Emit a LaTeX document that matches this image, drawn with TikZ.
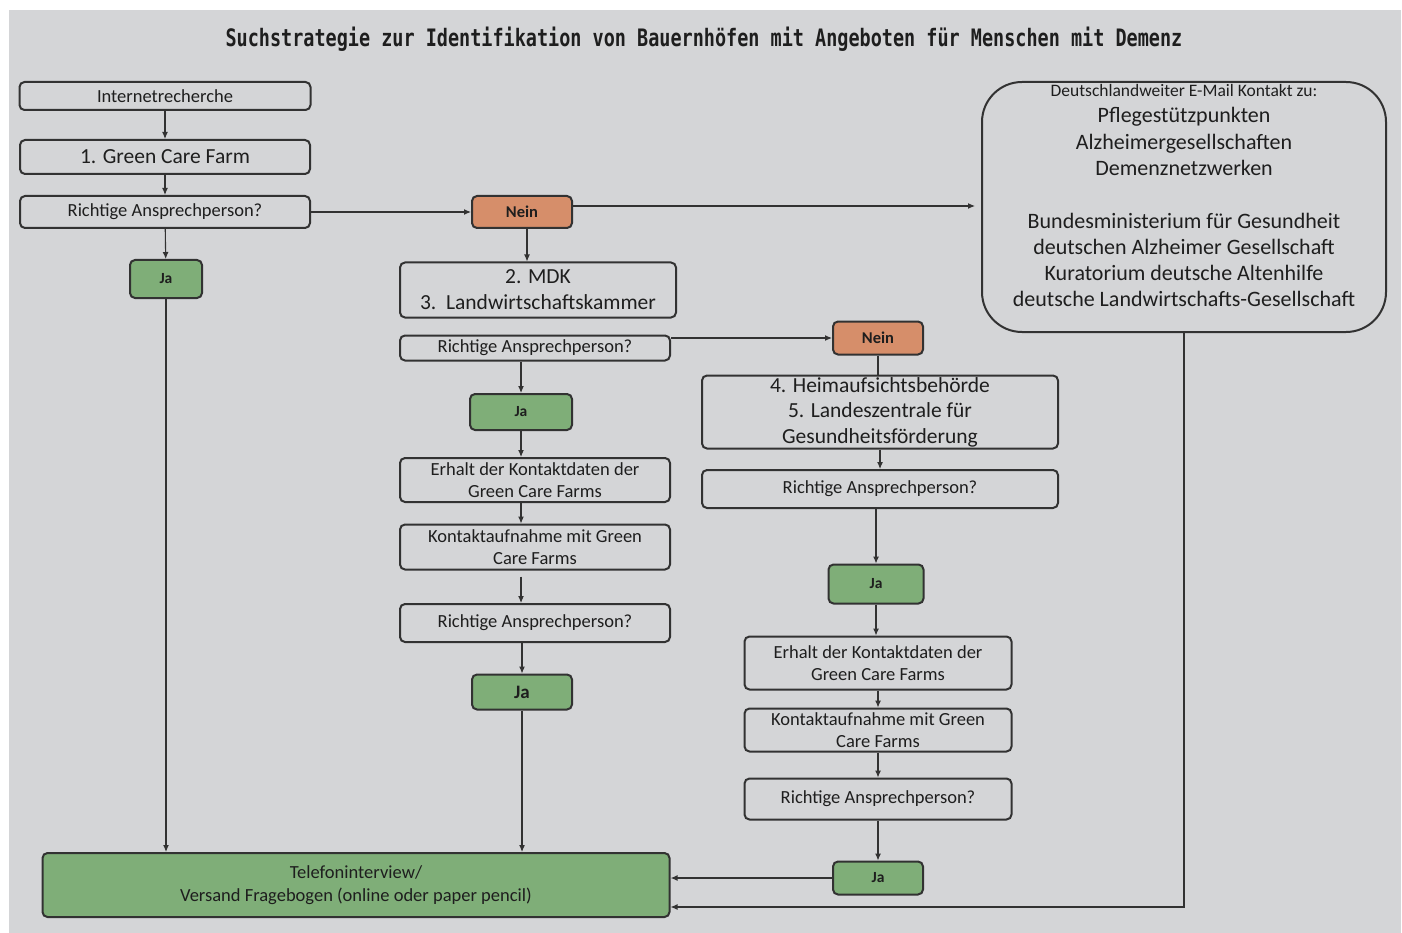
\documentclass[tikz,border=0pt]{standalone}
\usepackage{fontspec}
\usepackage{graphicx}
\setmainfont{Carlito}
\newfontfamily\titlefont{DejaVu Sans Mono}
\usepackage{tikz}
\usetikzlibrary{arrows.meta,positioning,calc}
\definecolor{panelgray}{RGB}{212,213,215}
\definecolor{boxline}{RGB}{50,50,50}
\definecolor{jagreen}{RGB}{127,174,120}
\definecolor{neinorange}{RGB}{214,142,106}
\definecolor{inktext}{RGB}{30,30,30}
\newcommand{\fsz}[2]{\fontsize{#1}{#2}\selectfont}

\begin{document}
\begin{tikzpicture}[
            x=1pt, y=-1pt,
            every node/.style={text=inktext},
            box/.style={draw=boxline, line width=2pt, rounded corners=5pt,
                inner sep=0pt, align=center, font=\fsz{18.5}{22.5}},
            jabox/.style={box, fill=jagreen, font=\bfseries\fsz{15.5}{18}},
            neinbox/.style={box, fill=neinorange, font=\bfseries\fsz{16.5}{19}},
            conn/.style={-{Latex[length=7pt,width=6pt]}, line width=1.1pt, draw=boxline},
            plain/.style={line width=1.1pt, draw=boxline}
        ]
        % rahmen
        \useasboundingbox (0,0) rectangle (1402,933);
        \fill[white] (0,0) rectangle (1402,933);
        \fill[panelgray] (9,10) rectangle (1401,933);

        \node (title) at (704,39) {\titlefont\bfseries\fsz{24}{26}%
            \scalebox{0.77}[1]{Suchstrategie zur Identifikation von Bauernhöfen mit Angeboten für Menschen mit Demenz}};

        % =============== linke spalte ===============
        \node[box, minimum width=291, minimum height=28] (intr) at (165,96) {Internetrecherche};
        \node[box, minimum width=290, minimum height=34, font=\fsz{21.5}{24}] (gcf) at (165,157) {1. Green Care Farm};
        \node[box, minimum width=290, minimum height=32] (q1) at (165,212) {Richtige Ansprechperson?};
        \node[jabox, minimum width=72, minimum height=38] (ja1) at (166,279) {Ja};

        \node[box, fill=jagreen, minimum width=627, minimum height=64] (tel) at (356,885)
        {Telefoninterview/\\Versand Fragebogen (online oder paper pencil)};

        % =============== mittlere spalte ===============
        \node[neinbox, minimum width=100, minimum height=32] (nein1) at (522,212) {Nein};
        \node[box, minimum width=276, minimum height=55, font=\fsz{21.5}{26}] (mdk) at (538,290)
        {2. MDK\\3.\ \ Landwirtschaftskammer};
        \node[box, minimum width=270, minimum height=25] (q2) at (535,348) {Richtige Ansprechperson?};
        \node[jabox, minimum width=102, minimum height=36] (ja2) at (521,412) {Ja};
        \node[box, minimum width=270, minimum height=44] (erh2) at (535,480)
        {Erhalt der Kontaktdaten der\\Green Care Farms};
        \node[box, minimum width=270, minimum height=45] (kon2) at (535,547)
        {Kontaktaufnahme mit Green\\Care Farms};
        \node[box, minimum width=270, minimum height=38] (q3) at (535,623) {Richtige Ansprechperson?};
        \node[jabox, minimum width=100, minimum height=35, font=\bfseries\fsz{19}{22}] (ja3) at (522,692) {Ja};

        % =============== rechte spalte ===============
        \node[neinbox, minimum width=90, minimum height=33] (nein2) at (878,338) {Nein};
        \node[box, minimum width=356, minimum height=73, font=\fsz{21.5}{25.5}] (heim) at (880,412)
        {4. Heimaufsichtsbehörde\\5. Landeszentrale für\\Gesundheitsförderung};
        \node[box, minimum width=356, minimum height=38] (q4) at (880,489) {Richtige Ansprechperson?};
        \node[jabox, minimum width=95, minimum height=39] (ja4) at (876,584) {Ja};
        \node[box, minimum width=267, minimum height=53] (erh4) at (878,663)
        {Erhalt der Kontaktdaten der\\Green Care Farms};
        \node[box, minimum width=267, minimum height=43] (kon4) at (878,730)
        {Kontaktaufnahme mit Green\\Care Farms};
        \node[box, minimum width=267, minimum height=41] (q5) at (878,799) {Richtige Ansprechperson?};
        \node[jabox, minimum width=90, minimum height=33] (ja5) at (878,878) {Ja};

        % e-mail kontakt
        \node[box, rounded corners=40pt, minimum width=404, minimum height=250]
        (email) at (1184,207) {};
        \node[font=\fsz{17.5}{20}] (emhead) at (1184,90) {Deutschlandweiter E-Mail Kontakt zu:};
        \node[align=center, font=\fsz{22}{26.3}, anchor=north] (emlist) at (1184,104)
        {Pflegestützpunkten\\Alzheimergesellschaften\\Demenznetzwerken\\[26.3pt]%
            Bundesministerium für Gesundheit\\deutschen Alzheimer Gesellschaft\\%
            Kuratorium deutsche Altenhilfe\\deutsche Landwirtschafts-Gesellschaft};

        % =============== verbindungen ===============
        \draw[conn] (intr) -- (gcf);
        \draw[conn] (gcf) -- (q1);
        \draw[conn] (q1) -- (ja1);
        \draw[conn] (q1.east) -- (nein1.west);
        \draw[conn, shorten >=6pt] ([yshift=6pt]nein1.east) -- ([yshift=6pt]nein1.east -| email.west);
        \draw[conn] ([xshift=5pt]nein1.south) -- ([xshift=5pt]nein1.south |- mdk.north);
        \draw[conn] (ja1) -- (ja1 |- tel.north);

        \draw[conn] (q2.east |- nein2.west) -- (nein2.west);
        \draw[conn] (q2.south -| ja2) -- (ja2.north);
        \draw[conn] (ja2) -- (ja2 |- erh2.north);
        \draw[conn] (erh2.south -| ja2) -- (kon2.north -| ja2);
        \draw[conn] ([yshift=-6pt]kon2.south -| ja2) -- (q3.north -| ja2);
        \draw[conn] (q3.south -| ja3) -- (ja3.north);
        \draw[conn] (ja3) -- (ja3 |- tel.north);

        \draw[plain] (nein2) -- (nein2 |- heim.north);
        \draw[conn] (heim) -- (q4);
        \draw[conn] (q4.south -| ja4) -- (ja4.north);
        \draw[conn] (ja4.south) -- (ja4.south |- erh4.north);
        \draw[conn] (erh4) -- (kon4);
        \draw[conn] (kon4) -- (q5);
        \draw[conn] (q5) -- (ja5);
        \draw[conn, line width=1.6pt] (ja5.west) -- (ja5.west -| tel.east);
        \draw[conn] (email.south) |- ([yshift=-22pt]tel.east);
    \end{tikzpicture}
\end{document}
